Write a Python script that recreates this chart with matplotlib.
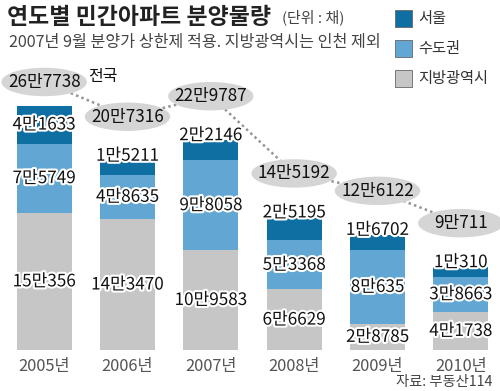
import matplotlib
matplotlib.use('Agg')
import matplotlib.pyplot as plt
import matplotlib.patheffects as pe
from matplotlib.patches import Ellipse, Rectangle
import numpy as np

plt.rcParams['font.family'] = ['Noto Sans CJK KR', 'DejaVu Sans']

years = ['2005년', '2006년', '2007년', '2008년', '2009년', '2010년']
seoul = [41633, 15211, 22146, 25195, 16702, 10310]
sudo = [75749, 48635, 98058, 53368, 80635, 38663]
jibang = [150356, 143470, 109583, 66629, 28785, 41738]
total = [267738, 207316, 229787, 145192, 126122, 90711]

seoul_lbl = ['4만1633', '1만5211', '2만2146', '2만5195', '1만6702', '1만310']
sudo_lbl = ['7만5749', '4만8635', '9만8058', '5만3368', '8만635', '3만8663']
jibang_lbl = ['15만356', '14만3470', '10만9583', '6만6629', '2만8785', '4만1738']
total_lbl = ['26만7738', '20만7316', '22만9787', '14만5192', '12만6122', '9만711']

c_seoul = '#0f6fa3'
c_sudo = '#62a6d3'
c_jibang = '#c6c6c6'

W, H = 500, 391
fig = plt.figure(figsize=(5, 3.91), dpi=100)
fig.patch.set_facecolor('white')

# pixel scale: 0.913 px per 1000 units
px_per_unit = 0.913 / 1000
ax_top_px, ax_bot_px = 20, 350
ax = fig.add_axes([0, 1 - ax_bot_px / H, 1, (ax_bot_px - ax_top_px) / H])
ymax = (ax_bot_px - ax_top_px) / px_per_unit
ax.set_ylim(0, ymax)
ax.set_xlim(-0.53, 5.47)
ax.axis('off')

x = np.arange(len(years))
bw = 0.66
seoul = np.array(seoul); sudo = np.array(sudo); jibang = np.array(jibang)
ax.bar(x, jibang, bw, color=c_jibang, zorder=2)
ax.bar(x, sudo, bw, bottom=jibang, color=c_sudo, zorder=2)
ax.bar(x, seoul, bw, bottom=jibang + sudo, color=c_seoul, zorder=2)

stroke = [pe.withStroke(linewidth=3, foreground='white')]
u = 1 / px_per_unit  # units per pixel
fs_seg = 12.3
for i in range(len(years)):
    ax.text(x[i], jibang[i] / 2, jibang_lbl[i], ha='center', va='center',
            fontsize=fs_seg, color='#111', path_effects=stroke, zorder=5)
    ax.text(x[i], jibang[i] + sudo[i] / 2, sudo_lbl[i], ha='center', va='center',
            fontsize=fs_seg, color='#111', path_effects=stroke, zorder=5)
    top = jibang[i] + sudo[i] + seoul[i]
    if i == 0:
        ys = jibang[i] + sudo[i] + seoul[i] / 2
    else:
        ys = top + 5 * u
    ax.text(x[i], ys, seoul_lbl[i], ha='center', va='center',
            fontsize=fs_seg, color='#111', path_effects=stroke, zorder=5)

# total ellipses with dotted connector
ey = [min(t + 44 * u, (ax_bot_px - 82) * u) for t in total]
ax.plot(x, ey, color='#959595', ls=(0, (1, 1.3)), lw=1.8, zorder=3)
for i in range(len(years)):
    ax.add_patch(Ellipse((x[i], ey[i]), 84 / 83.33, 27 * u, color='#d5d5d5', zorder=4))
    ax.text(x[i], ey[i], total_lbl[i], ha='center', va='center',
            fontsize=12.3, color='#111', zorder=5)
ax.text(0.53, ey[0] + 5 * u, '전국', ha='left', va='center', fontsize=11.5,
        color='#111', zorder=5)

# year labels
for i in range(len(years)):
    fig.text((x[i] + 0.53) * 83.33 / W, 1 - 366 / H, years[i], ha='center', va='center',
             fontsize=11.8, color='#555')

# titles
fig.text(7 / W, 1 - 18 / H, '연도별 민간아파트 분양물량', ha='left', va='center',
         fontsize=16.5, fontweight='bold', color='#222')
fig.text(282 / W, 1 - 17 / H, '(단위 : 채)', ha='left', va='center',
         fontsize=10.8, color='#444')
fig.text(9 / W, 1 - 43 / H, '2007년 9월 분양가 상한제 적용. 지방광역시는 인천 제외',
         ha='left', va='center', fontsize=11.6, color='#444')

# legend
for yy, col, lab in [(18, c_seoul, '서울'), (48, c_sudo, '수도권'), (78, c_jibang, '지방광역시')]:
    fig.patches.append(Rectangle((395 / W, 1 - (yy + 8.5) / H), 17 / W, 17 / H,
                                 transform=fig.transFigure, facecolor=col,
                                 edgecolor='#666', lw=0.6, figure=fig))
    fig.text(418 / W, 1 - yy / H, lab, ha='left', va='center', fontsize=11, color='#333')

fig.text(493 / W, 1 - 382 / H, '자료: 부동산114', ha='right', va='center',
         fontsize=10.3, color='#444')

fig.savefig('out.png', dpi=100)
